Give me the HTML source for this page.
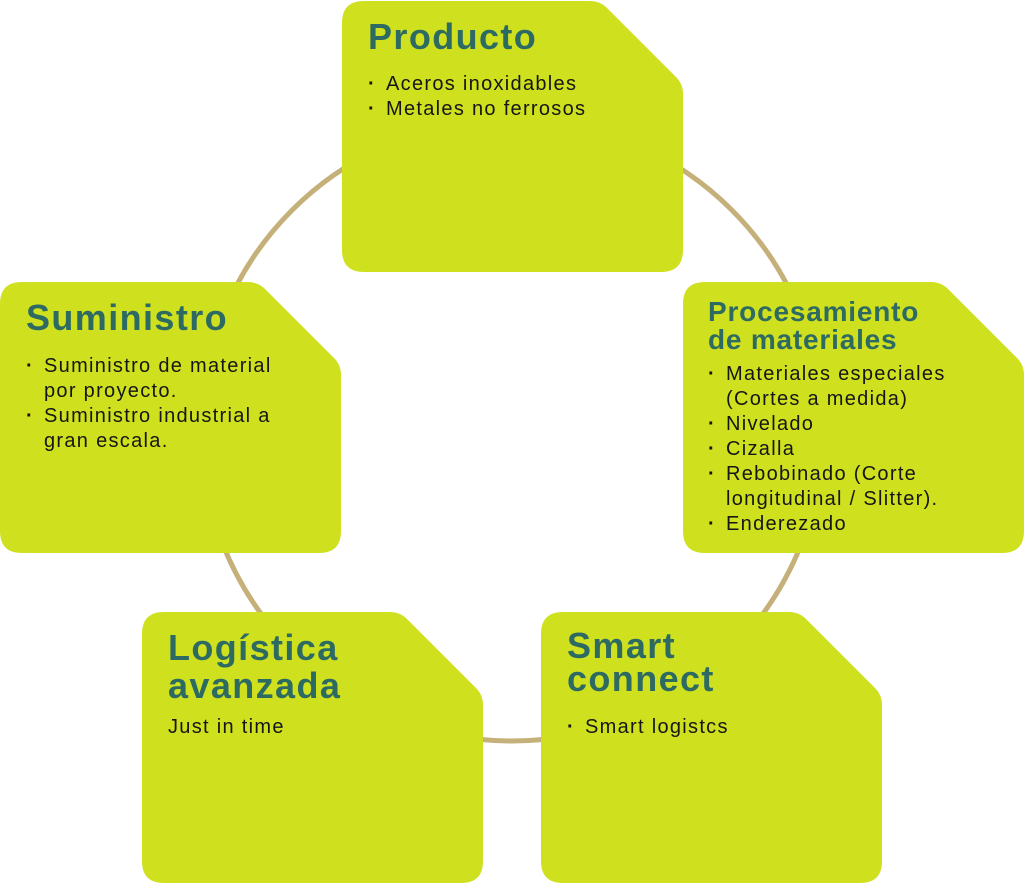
<!DOCTYPE html>
<html><head><meta charset="utf-8"><style>
body{margin:0;width:1024px;height:884px;background:#fff;position:relative;overflow:hidden;font-family:"Liberation Sans",sans-serif}
svg{position:absolute;left:0;top:0}
.t{position:absolute;color:#2d6a62;font-weight:bold;font-size:36px;line-height:38px;letter-spacing:1.4px}
.b{position:absolute;color:#161616;font-size:20px;line-height:25px;letter-spacing:1.3px;white-space:nowrap}
.b div{position:relative;padding-left:18px}
.b div.d::before{content:"·";position:absolute;left:0;top:0;font-weight:bold}
</style></head><body>
<svg width="1024" height="884">
<circle cx="512" cy="430" r="311" fill="none" stroke="#c6b07a" stroke-width="5"/>
<defs><path id="s" d="M22,0 H248 Q258,0 265,7 L334,76 Q341,83 341,93 V249 Q341,271 319,271 H22 Q0,271 0,249 V22 Q0,0 22,0 Z" fill="#cfe01f"/></defs>
<use href="#s" x="342" y="1"/>
<use href="#s" x="683" y="282"/>
<use href="#s" x="0" y="282"/>
<use href="#s" x="142" y="612"/>
<use href="#s" x="541" y="612"/>
</svg>
<div class="t" style="left:368px;top:18px">Producto</div>
<div class="b" style="left:368px;top:72px"><div class="d">Aceros inoxidables</div><div class="d">Metales no ferrosos</div></div>

<div class="t" style="left:708px;top:298px;font-size:28px;line-height:28px;letter-spacing:0.8px">Procesamiento<br>de materiales</div>
<div class="b" style="left:708px;top:362px"><div class="d">Materiales especiales</div><div>(Cortes a medida)</div><div class="d">Nivelado</div><div class="d">Cizalla</div><div class="d">Rebobinado (Corte</div><div>longitudinal / Slitter).</div><div class="d">Enderezado</div></div>

<div class="t" style="left:26px;top:299px">Suministro</div>
<div class="b" style="left:26px;top:354px"><div class="d">Suministro de material</div><div>por proyecto.</div><div class="d">Suministro industrial a</div><div>gran escala.</div></div>

<div class="t" style="left:168px;top:629px">Logística<br>avanzada</div>
<div class="b" style="left:168px;top:715px">Just in time</div>

<div class="t" style="left:567px;top:629px;line-height:33px">Smart<br>connect</div>
<div class="b" style="left:567px;top:715px"><div class="d">Smart logistcs</div></div>
</body></html>
